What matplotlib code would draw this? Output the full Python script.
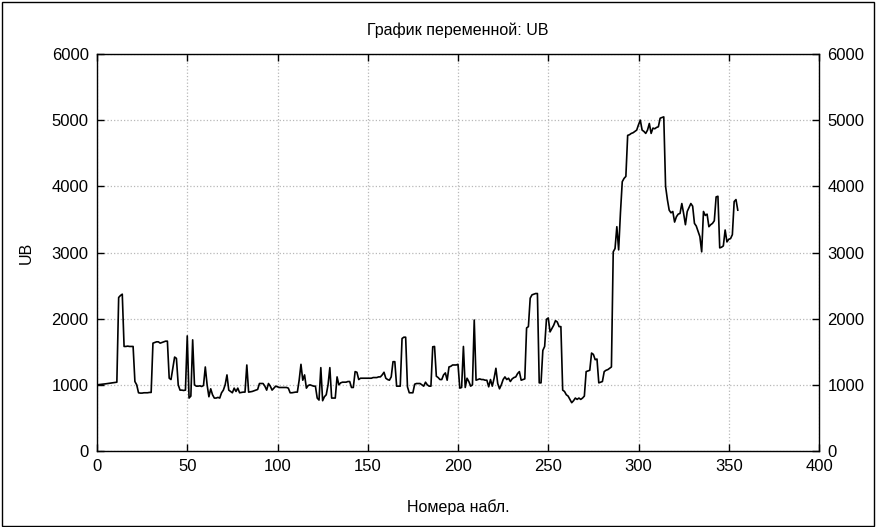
import matplotlib
matplotlib.use("Agg")
import matplotlib.pyplot as plt
from matplotlib.patches import Rectangle

ub = [
    1000, 1003, 1006, 1010, 1013, 1016, 1020, 1024, 1028, 1032,
    1036, 1040, 2320, 2350, 2370, 1580, 1580, 1585, 1580, 1580,
    1580, 1050, 1000, 880, 875, 875, 880, 880, 880, 885,
    885, 1630, 1640, 1650, 1650, 1630, 1640, 1650, 1660, 1660,
    1100, 1080, 1250, 1420, 1400, 1000, 920, 920, 915, 920,
    1740, 800, 830, 1680, 1000, 980, 980, 985, 975, 990,
    1270, 1000, 820, 940, 850, 800, 800, 810, 800, 880,
    920, 1000, 1150, 920, 900, 880, 950, 900, 950, 880,
    885, 890, 890, 1300, 890, 895, 900, 910, 920, 930,
    1020, 1020, 1020, 980, 920, 1020, 980, 920, 950, 980,
    970, 960, 960, 960, 960, 960, 950, 880, 880, 885,
    890, 890, 1070, 1310, 1070, 1150, 950, 990, 1000, 990,
    980, 980, 800, 770, 1260, 760, 820, 850, 1000, 1260,
    800, 800, 800, 1120, 1000, 1030, 1040, 1040, 1040, 1050,
    1050, 960, 960, 1200, 1190, 1080, 1100, 1100, 1100, 1100,
    1100, 1100, 1100, 1110, 1110, 1110, 1120, 1120, 1150, 1190,
    1100, 1080, 1070, 1120, 1350, 1350, 980, 980, 980, 1700,
    1720, 1720, 970, 880, 880, 880, 1010, 1020, 1020, 1020,
    1000, 980, 1040, 1000, 980, 980, 1575, 1580, 1130, 1110,
    1080, 1080, 1150, 1180, 1070, 1270, 1280, 1300, 1300, 1300,
    1310, 950, 960, 1580, 960, 1100, 1050, 980, 1000, 1980,
    1070, 1080, 1090, 1080, 1080, 1070, 1070, 970, 1080, 980,
    1100, 1250, 1020, 940, 1000, 1080, 1120, 1080, 1100, 1050,
    1090, 1110, 1120, 1170, 1200, 1070, 1080, 1090, 1860, 1880,
    2310, 2360, 2370, 2380, 2380, 1030, 1030, 1520, 1580, 1990,
    2010, 1800, 1850, 1900, 1970, 1950, 1880, 1880, 920, 900,
    850, 830, 780, 730, 760, 800, 780, 800, 780, 800,
    830, 1200, 1210, 1220, 1480, 1460, 1380, 1390, 1030, 1040,
    1050, 1200, 1220, 1230, 1250, 1270, 3010, 3060, 3390, 3040,
    3600, 4070, 4120, 4150, 4770, 4780, 4800, 4810, 4830, 4850,
    4930, 5000, 4850, 4830, 4800, 4850, 4950, 4800, 4880, 4870,
    4890, 4900, 5030, 5040, 5050, 4000, 3800, 3640, 3600, 3620,
    3460, 3540, 3580, 3590, 3740, 3590, 3420, 3620, 3680, 3740,
    3700, 3440, 3400, 3320, 3240, 3010, 3620, 3560, 3580, 3390,
    3420, 3440, 3480, 3840, 3850, 3070, 3080, 3100, 3340, 3160,
    3200, 3210, 3270, 3770, 3800, 3640,
]
nomera = list(range(len(ub)))

x_ticks = [0, 50, 100, 150, 200, 250, 300, 350, 400]
y_ticks = [0, 1000, 2000, 3000, 4000, 5000, 6000]

plt.rcParams['font.family'] = ['Liberation Sans', 'DejaVu Sans']

fig = plt.figure(figsize=(8.77, 5.27), dpi=100)
ax = fig.add_axes([97 / 877, 76 / 527, 722 / 877, 397 / 527])

# рамка вокруг всего рисунка
fig.patches.append(Rectangle((0.002, 0.002), 0.995, 0.995, transform=fig.transFigure,
                             fill=False, edgecolor='black', linewidth=1.0))

ax.plot(nomera, ub, color='black', linewidth=1.2)

ax.set_xlim(0, 400)
ax.set_ylim(0, 6000)
ax.set_xticks(x_ticks)
ax.set_yticks(y_ticks)
ax.grid(True, linestyle=':', color='#b8b8b8', linewidth=0.9)

ax.tick_params(direction='in', length=5, width=1, labelsize=12,
               top=True, right=True, labelright=True, pad=6)
for s in ax.spines.values():
    s.set_linewidth(1.0)

ax.set_title("График переменной: UB", fontsize=11.5, pad=14)
ax.set_xlabel("Номера набл.", fontsize=11.5, labelpad=18)
ax.set_ylabel("UB", fontsize=11.5, labelpad=13)

plt.savefig("out.png", dpi=100)
plt.close()
